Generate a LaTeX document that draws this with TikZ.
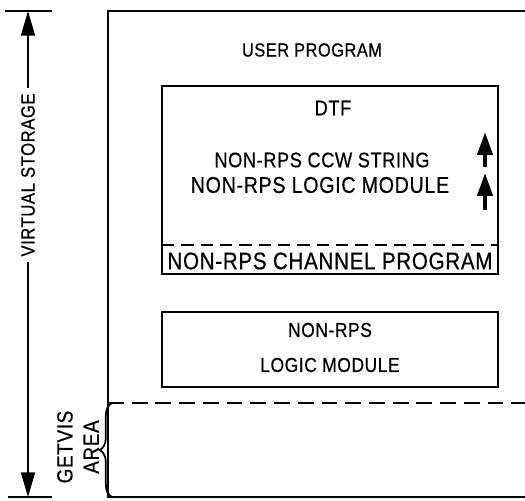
\documentclass[tikz,border=0pt]{standalone}
\usepackage{fontspec}
\setmainfont{Liberation Sans}[FakeStretch=0.86,FakeBold=0.6,LetterSpace=3]
\usetikzlibrary{arrows.meta,decorations.pathreplacing}

\tikzset{
  lbl/.style={inner sep=0pt,font=\fontsize{12}{14}\selectfont},
  thickline/.style={line width=1.4pt},
  boxline/.style={line width=1.1pt},
  dashline/.style={line width=1.2pt,dash pattern=on 9pt off 4.5pt},
  vsarrow/.style={-{Triangle[length=14pt,width=8pt]},line width=0.7pt},
  uparrow/.style={-{Triangle[length=13pt,width=8.5pt]},line width=2.4pt}
}

\begin{document}
\begin{tikzpicture}[x=0.2mm,y=0.2mm]
  \useasboundingbox (0,0) rectangle (525,500);
  % main storage column
  \draw[thickline] (525,489) -- (108,489) -- (108,3) -- (525,3);
  \draw[dashline] (108,97) -- (525,97);
  \node[lbl,font=\fontsize{10.8}{13}\selectfont] (user) at (312,450) {USER PROGRAM};

  % DTF area
  \draw[boxline] (162,226) rectangle (498,414);
  \draw[dashline,line width=1pt,dash pattern=on 7pt off 4pt] (162,255) -- (498,255);
  \node[lbl] (dtf) at (333,392) {DTF};
  \node[lbl] (ccw) at (322,340) {NON-RPS CCW STRING};
  \node[lbl,font=\fontsize{13}{15}\selectfont] (lmod) at (320,315) {NON-RPS LOGIC MODULE};
  \node[lbl,font=\fontsize{13.6}{16}\selectfont] (chan) at (330,239) {NON-RPS CHANNEL PROGRAM};
  \coordinate (a1s) at (485,333);
  \coordinate (a1e) at (485,368);
  \coordinate (a2s) at (485,290);
  \coordinate (a2e) at (485,327);
  \draw[uparrow] (a1s) -- (a1e);
  \draw[uparrow] (a2s) -- (a2e);

  % separate logic module
  \draw[boxline] (162,113) rectangle (498,188);
  \node[lbl,font=\fontsize{11.5}{14}\selectfont] (nrps) at (330,170) {NON-RPS};
  \node[lbl,font=\fontsize{11.5}{14}\selectfont] (lmod2) at (330,135) {LOGIC MODULE};

  % virtual storage dimension
  \coordinate (vstop) at (28,489);
  \coordinate (vsbot) at (28,3);
  \draw[thickline] (5,489) -- (52,489);
  \draw[line width=0.8pt] (8,3) -- (52,3);
  \node[lbl,rotate=90,fill=white,inner xsep=3pt,font=\fontsize{11}{14}\selectfont] (vs) at (28,325) {VIRTUAL STORAGE};
  \draw[vsarrow] (vs.east) -- (vstop);
  \draw[vsarrow] (vs.west) -- (vsbot);

  % getvis area
  \node[lbl,rotate=90,align=center,font=\fontsize{12.5}{15}\selectfont] (getvis) at (78,53) {GETVIS\\AREA};
  \draw[line width=1pt,decorate,decoration={brace,amplitude=7pt}] (112,3) -- (112,97);
\end{tikzpicture}
\end{document}
